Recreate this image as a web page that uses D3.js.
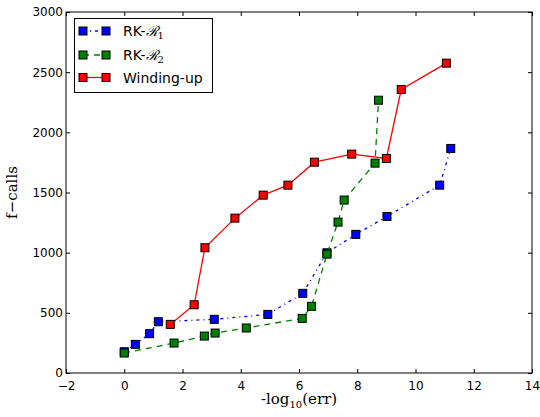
<!DOCTYPE html>
<html><head><meta charset="utf-8">
<script src="https://cdn.jsdelivr.net/npm/d3@7"></script>
<style>body{margin:0;background:#fff}svg{display:block}</style>
</head><body>
<svg id="c" width="540" height="417"></svg>
<script>
const rk1X = [0, 0.38, 0.87, 1.17, 3.09, 4.93, 6.13, 6.96, 7.95, 9.02, 10.83, 11.21];
const rk1Y = [177, 238, 327, 426, 446, 487, 662, 999, 1152, 1301, 1561, 1866];
const rk2X = [0, 1.71, 2.75, 3.12, 4.19, 6.11, 6.43, 6.96, 7.34, 7.55, 8.61, 8.73];
const rk2Y = [166, 249, 307, 332, 374, 454, 554, 988, 1254, 1437, 1744, 2267];
const windX = [1.58, 2.40, 2.77, 3.80, 4.77, 5.62, 6.53, 7.81, 9.00, 9.51, 11.06];
const windY = [404, 567, 1041, 1287, 1478, 1561, 1752, 1819, 1783, 2356, 2575];
const xTicks = [-2, 0, 2, 4, 6, 8, 10, 12, 14];
const yTicks = [0, 500, 1000, 1500, 2000, 2500, 3000];
const seriesNames = ["RK-ℛ1", "RK-ℛ2", "Winding-up"];

const series = [
  {name: seriesNames[0], sub: "1", xs: rk1X, ys: rk1Y, color: "#0000ff", dash: "3,4,1,4"},
  {name: seriesNames[1], sub: "2", xs: rk2X, ys: rk2Y, color: "#008000", dash: "6,5"},
  {name: seriesNames[2], sub: null, xs: windX, ys: windY, color: "#ff0000", dash: null}
];

const L = 66, R = 532, T = 12, B = 373;
const svg = d3.select("#c");
const x = d3.scaleLinear().domain([-2, 14]).range([L, R]);
const y = d3.scaleLinear().domain([0, 3000]).range([B, T]);

const tickFont = "DejaVu Sans, sans-serif";

const gx = svg.append("g").attr("transform", `translate(0,${B})`)
  .call(d3.axisBottom(x).tickValues(xTicks).tickSizeInner(-4).tickSizeOuter(0).tickPadding(8)
    .tickFormat(d => d < 0 ? "\u2212" + Math.abs(d) : d));
const gy = svg.append("g").attr("transform", `translate(${L},0)`)
  .call(d3.axisLeft(y).tickValues(yTicks).tickSizeInner(-4).tickSizeOuter(0).tickPadding(3)
    .tickFormat(d3.format("d")));
const gxt = svg.append("g").attr("transform", `translate(0,${T})`)
  .call(d3.axisTop(x).tickValues(xTicks).tickSizeInner(-4).tickSizeOuter(0).tickFormat(""));
const gyr = svg.append("g").attr("transform", `translate(${R},0)`)
  .call(d3.axisRight(y).tickValues(yTicks).tickSizeInner(-4).tickSizeOuter(0).tickFormat(""));
[gx, gy, gxt, gyr].forEach(g => {
  g.select(".domain").remove();
  g.selectAll("line").attr("stroke", "#000").attr("stroke-width", 1);
  g.selectAll("text").attr("font-family", tickFont).attr("font-size", 12).attr("fill", "#000");
});
gx.selectAll("text").attr("dy", "0.71em");

svg.append("rect").attr("x", L).attr("y", T).attr("width", R - L).attr("height", B - T)
  .attr("fill", "none").attr("stroke", "#000").attr("stroke-width", 1);

const xl = svg.append("text").attr("x", (L + R) / 2).attr("y", 404).attr("text-anchor", "middle")
  .attr("font-family", "DejaVu Serif, Liberation Serif, serif").attr("font-size", 15).attr("fill", "#000");
xl.append("tspan").text("-log");
xl.append("tspan").attr("font-size", 10).attr("dy", 4).text("10");
xl.append("tspan").attr("dy", -4).text("(err)");

svg.append("text").attr("transform", `translate(17,${(T + B) / 2}) rotate(-90)`)
  .attr("text-anchor", "middle").attr("font-family", "DejaVu Serif, Liberation Serif, serif")
  .attr("font-size", 15).attr("fill", "#000").text("f\u2212calls");

const line = d3.line().x(d => x(d[0])).y(d => y(d[1]));
const MS = 8;

series.forEach(s => {
  const pts = s.xs.map((v, i) => [v, s.ys[i]]);
  svg.append("path").datum(pts).attr("d", line).attr("fill", "none")
    .attr("stroke", s.color).attr("stroke-width", 1.3)
    .attr("stroke-dasharray", s.dash);
  svg.append("g").selectAll("rect").data(pts).join("rect")
    .attr("x", d => x(d[0]) - MS / 2).attr("y", d => y(d[1]) - MS / 2)
    .attr("width", MS).attr("height", MS)
    .attr("fill", s.color).attr("stroke", "#000").attr("stroke-width", 1);
});

const lg = svg.append("g");
lg.append("rect").attr("x", 74.5).attr("y", 18.5).attr("width", 138).attr("height", 74)
  .attr("fill", "#fff").attr("stroke", "#000").attr("stroke-width", 1);
const rowsY = [31, 55, 77.5];
series.forEach((s, i) => {
  const yy = rowsY[i];
  lg.append("line").attr("x1", 83).attr("x2", 106).attr("y1", yy).attr("y2", yy)
    .attr("stroke", s.color).attr("stroke-width", 1.3).attr("stroke-dasharray", s.dash);
  [83, 106].forEach(cx => lg.append("rect").attr("x", cx - MS / 2).attr("y", yy - MS / 2)
    .attr("width", MS).attr("height", MS).attr("fill", s.color).attr("stroke", "#000"));
  const t = lg.append("text").attr("x", 123).attr("y", yy + 5)
    .attr("font-family", tickFont).attr("font-size", 14).attr("fill", "#000");
  if (s.sub) {
    t.append("tspan").text("RK-");
    t.append("tspan").attr("font-family", "DejaVu Serif, serif").attr("font-style", "italic").text("\u211B");
    t.append("tspan").attr("font-family", "DejaVu Serif, serif").attr("font-size", 10).attr("dy", 3).text(s.sub);
  } else {
    t.text(s.name);
  }
});
</script>
</body></html>
